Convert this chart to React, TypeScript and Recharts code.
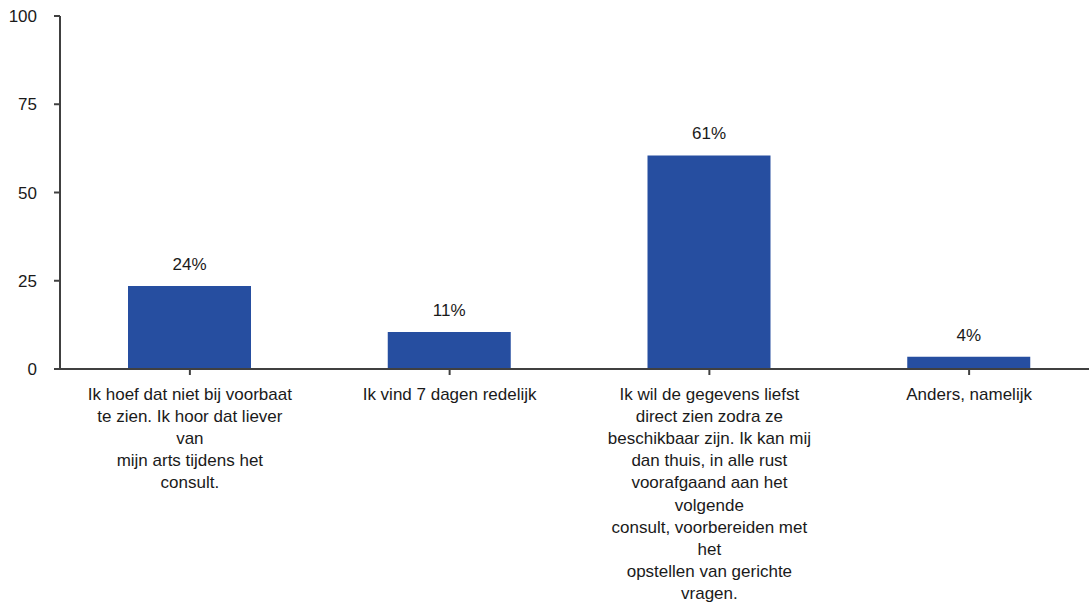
import React from "react";
import { BarChart, Bar, XAxis, YAxis, LabelList } from "recharts";

const categories: string[] = [
  "Ik hoef dat niet bij voorbaat\nte zien. Ik hoor dat liever\nvan\nmijn arts tijdens het\nconsult.",
  "Ik vind 7 dagen redelijk",
  "Ik wil de gegevens liefst\ndirect zien zodra ze\nbeschikbaar zijn. Ik kan mij\ndan thuis, in alle rust\nvoorafgaand aan het\nvolgende\nconsult, voorbereiden met\nhet\nopstellen van gerichte\nvragen.",
  "Anders, namelijk",
];
const values: number[] = [23.5, 10.5, 60.5, 3.5];
const yTicks: number[] = [0, 25, 50, 75, 100];

const data = categories.map((c, i) => ({ name: c, value: values[i] }));

const FONT = "'Liberation Sans', Arial, Helvetica, sans-serif";
const TEXT = "#1a1a1a";
const AXIS = "#404040";

const CategoryTick = (props: any) => {
  const { x, y, payload } = props;
  const lines = String(payload.value).split("\n");
  return (
    <text x={x} y={y} textAnchor="middle" fill={TEXT} fontSize={17} fontFamily={FONT}>
      {lines.map((l, i) => (
        <tspan key={i} x={x} dy={i === 0 ? 24 : 22.1}>
          {l}
        </tspan>
      ))}
    </text>
  );
};

export default function App() {
  return (
    <div
      style={{
        position: "absolute",
        left: 0,
        top: 0,
        width: 1089,
        height: 606,
        overflow: "hidden",
        background: "#fff",
      }}
    >
      <BarChart
        width={1100}
        height={606}
        data={data}
        margin={{ top: 16, right: 1, bottom: 7, left: 0 }}
        barSize={123}
      >
        <XAxis
          dataKey="name"
          height={230}
          interval={0}
          tick={<CategoryTick />}
          tickSize={6}
          tickMargin={1}
          axisLine={{ stroke: AXIS, strokeWidth: 2 }}
          tickLine={{ stroke: AXIS, strokeWidth: 2 }}
        />
        <YAxis
          width={60}
          domain={[0, 100]}
          ticks={yTicks}
          interval={0}
          tickSize={6}
          tickMargin={17}
          tick={{ fill: TEXT, fontSize: 17, fontFamily: FONT }}
          axisLine={{ stroke: AXIS, strokeWidth: 2 }}
          tickLine={{ stroke: AXIS, strokeWidth: 2 }}
        />
        <Bar dataKey="value" fill="#264EA0" isAnimationActive={false}>
          <LabelList
            dataKey="value"
            position="top"
            offset={16}
            formatter={(v: any) => `${Math.round(Number(v))}%`}
            fill={TEXT}
            fontSize={17}
            fontFamily={FONT}
          />
        </Bar>
      </BarChart>
    </div>
  );
}
